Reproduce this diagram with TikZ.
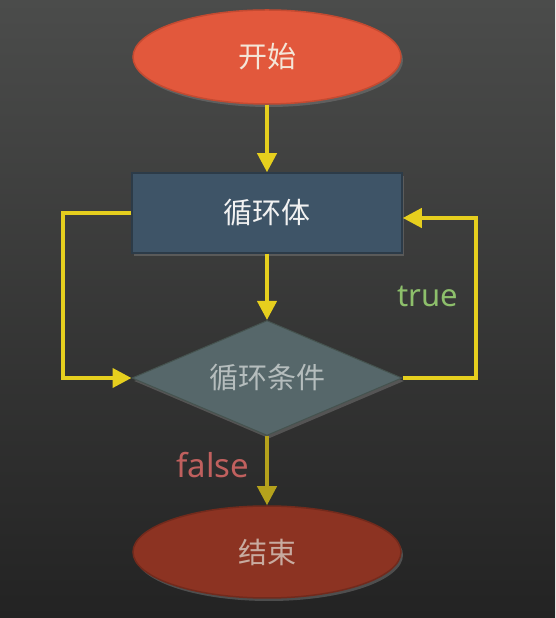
\documentclass[tikz,border=0pt]{standalone}
\usepackage{fontspec}
\setmainfont{Noto Sans}
\newfontfamily\cjk{Noto Sans CJK SC}
\usetikzlibrary{shapes.geometric,arrows.meta,shadows}
\definecolor{bgtop}{HTML}{4B4C4B}
\definecolor{bgmid}{HTML}{3C3D3C}
\definecolor{bgbot}{HTML}{232323}
\definecolor{startfill}{HTML}{E2583C}
\definecolor{startdraw}{HTML}{C44A31}
\definecolor{starttext}{HTML}{F4E6D8}
\definecolor{bodyfill}{HTML}{3E5467}
\definecolor{bodydraw}{HTML}{2C3B48}
\definecolor{bodytext}{HTML}{F2F2F2}
\definecolor{condfill}{HTML}{56676A}
\definecolor{conddraw}{HTML}{45534F}
\definecolor{condtext}{HTML}{B5BDBD}
\definecolor{endfill}{HTML}{8C3322}
\definecolor{enddraw}{HTML}{722A1C}
\definecolor{endtext}{HTML}{C8ABA0}
\definecolor{flow}{HTML}{E6CF1E}
\definecolor{flowdark}{HTML}{B5A21C}
\definecolor{truec}{HTML}{8DBF6B}
\definecolor{falsec}{HTML}{C0605E}
\begin{document}
\begin{tikzpicture}[x=1pt,y=1pt,
  shadowed/.style={drop shadow={shadow xshift=2pt,shadow yshift=-3pt,opacity=0.45}},
  startend/.style={ellipse,minimum width=268pt,minimum height=94pt,inner sep=0pt,line width=1.5pt,shadowed},
  bodybox/.style={rectangle,minimum width=270pt,minimum height=80pt,inner sep=0pt,fill=bodyfill,draw=bodydraw,line width=1.5pt,shadowed},
  condbox/.style={diamond,shape aspect=2.35,minimum width=270pt,minimum height=115pt,inner sep=0pt,fill=condfill,draw=conddraw,line width=1pt,shadowed},
  flowline/.style={draw=flow,line width=4pt,-{Triangle[length=19pt,width=19pt]}},
  cjktext/.style={font=\cjk\fontsize{29}{32}\selectfont}
]
\shade[top color=bgtop,middle color=bgmid,bottom color=bgbot] (0,0) rectangle (555,618);
\useasboundingbox (0,0) rectangle (555,618);

\node[startend,fill=startfill,draw=startdraw,cjktext,text=starttext] (start) at (267,561) {开始};
\node[bodybox,cjktext,text=bodytext] (body) at (267,405) {循环体};
\node[condbox,cjktext,text=condtext] (cond) at (267,240) {循环条件};
\node[startend,fill=endfill,draw=enddraw,minimum height=92pt,cjktext,text=endtext] (stop) at (267,66) {结束};

\draw[flowline] (start.south) -- (body.north);
\draw[flowline] (body.south) -- (cond.north);
\draw[flowline,draw=flowdark] (cond.south) -- (stop.north);
\draw[flowline] (body.west) -- ++(-68,0) |- (cond.west);
\draw[flowline] (cond.east) -- ++(73,0) |- ([yshift=-5pt]body.east);

\node[text=truec,font=\fontsize{31}{34}\selectfont] (truel) at (428,322) {true};
\node[text=falsec,font=\fontsize{33}{36}\selectfont] (falsel) at (213,153) {false};
\end{tikzpicture}
\end{document}
